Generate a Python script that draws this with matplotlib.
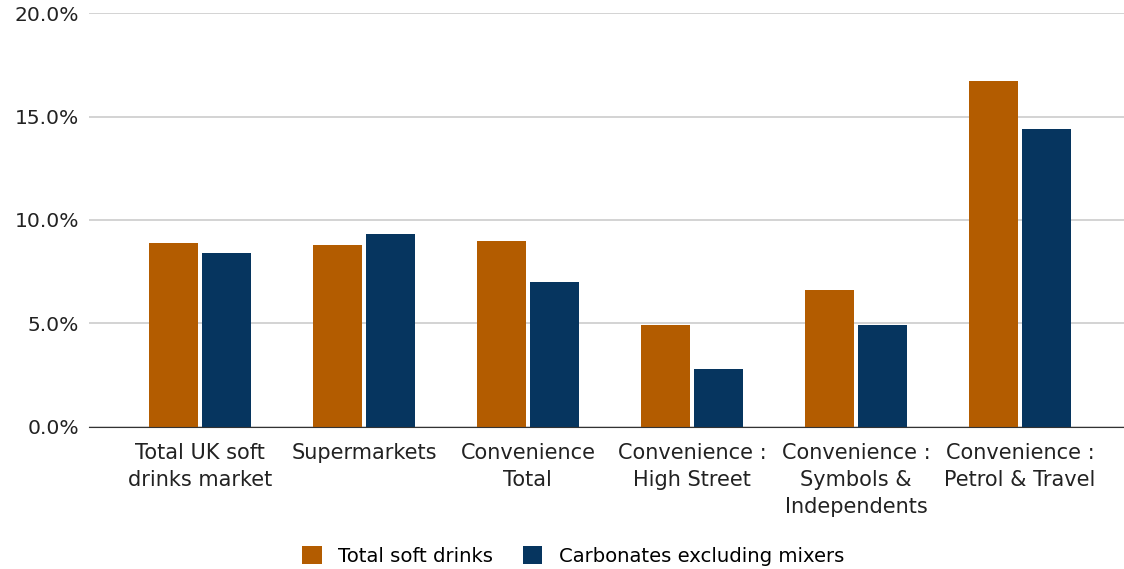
import matplotlib
matplotlib.use('Agg')
import matplotlib.pyplot as plt
import numpy as np

categories = ['Total UK soft\ndrinks market', 'Supermarkets', 'Convenience\nTotal',
              'Convenience :\nHigh Street', 'Convenience :\nSymbols &\nIndependents',
              'Convenience :\nPetrol & Travel']
total_soft = [8.9, 8.8, 9.0, 4.9, 6.6, 16.7]
carbonates = [8.4, 9.3, 7.0, 2.8, 4.9, 14.4]
series_names = ['Total soft drinks', 'Carbonates excluding mixers']
colors = ['#B35C00', '#06355F']

plt.rcParams['font.family'] = ['DejaVu Sans']
fig = plt.figure(figsize=(11.24, 5.69), dpi=100)
ax = fig.add_axes([0.079, 0.25, 0.921, 0.727])

x = np.arange(len(categories))
w = 0.30
off = 0.162
ax.bar(x - off, total_soft, w, color=colors[0], label=series_names[0], zorder=3)
ax.bar(x + off, carbonates, w, color=colors[1], label=series_names[1], zorder=3)

ax.set_xlim(-0.677, len(categories) - 1 + 0.634)
ax.set_ylim(0, 20)
ax.set_yticks([0, 5, 10, 15, 20])
ax.set_yticklabels(['%.1f%%' % v for v in [0, 5, 10, 15, 20]], fontsize=14.6, color='#222222')
ax.set_xticks(x)
ax.set_xticklabels(categories, fontsize=15, color='#222222', linespacing=1.42)
ax.tick_params(axis='y', length=0, pad=7)
ax.tick_params(axis='x', length=0, pad=12)
ax.grid(axis='y', color='#cccccc', linewidth=1.2, zorder=0)
for s in ['top', 'right', 'left']:
    ax.spines[s].set_visible(False)
ax.spines['bottom'].set_color('#333333')
ax.spines['bottom'].set_zorder(4)

fig.legend(loc='lower center', bbox_to_anchor=(0.51, -0.025), ncol=2, frameon=False,
           fontsize=14.1, handlelength=1.0, handleheight=1.0, columnspacing=1.5,
           handletextpad=0.85)

plt.savefig('out.png', dpi=100)
plt.close()
